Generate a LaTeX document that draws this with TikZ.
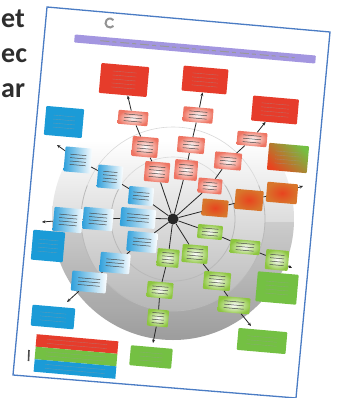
\documentclass[tikz,border=0pt]{standalone}
\usepackage{fontspec}
\newfontfamily\calfont{Carlito}
\usetikzlibrary{arrows.meta}
\definecolor{sRed}{HTML}{E63C2B}
\definecolor{sBlue}{HTML}{1B9BD7}
\definecolor{sGreen}{HTML}{74C043}
\definecolor{gPink}{HTML}{EE7462}
\definecolor{gBlue}{HTML}{2E9FDB}
\definecolor{gGreen}{HTML}{8DC63F}
\definecolor{oRed}{HTML}{E8441F}
\definecolor{oYel}{HTML}{C4B43A}
\definecolor{barPurple}{HTML}{A396E0}
\definecolor{pageBlue}{HTML}{4A7CC4}
\definecolor{inkGray}{HTML}{2E2E2E}
\newcommand\tl[3]{%
  \begin{scope}[shift={(#1.center)},rotate=-5]
    \foreach \k in {1,...,#2}{\draw[txt] ({-#3},{(\k-(#2+1)/2)*3.4}) -- ({#3},{(\k-(#2+1)/2)*3.4});}
  \end{scope}}
\newcommand\tls[3]{%
  \begin{scope}[shift={(#1.center)},rotate=-5]
    \foreach \k in {1,...,#2}{\draw[stxt] ({-#3},{(\k-(#2+1)/2)*4}) -- ({#3},{(\k-(#2+1)/2)*4});}
  \end{scope}}
\begin{document}
\begin{tikzpicture}[x=1pt,y=-1pt,
  box/.style={rotate=-5, inner sep=0pt, rounded corners=1pt},
  wh/.style 2 args={minimum width=#1, minimum height=#2},
  sR/.style={box, fill=sRed},
  sB/.style={box, fill=sBlue},
  sG/.style={box, fill=sGreen},
  gR/.style={box, inner color=white, outer color=gPink},
  gB/.style={box, left color=gBlue, right color=white},
  gG/.style={box, inner color=white, outer color=gGreen},
  gO/.style={box, inner color=oRed, outer color=oRed!55!oYel},
  conn/.style={draw=black!85, line width=0.8pt},
  arr/.style={conn, -{Stealth[length=3.5pt,width=3pt]}},
  txt/.style={black!70, line width=0.5pt},
  stxt/.style={black!40, line width=0.4pt, opacity=0.5},
  big/.style={anchor=base west, inner sep=0pt, text=inkGray,
    font=\calfont\bfseries\fontsize{28}{30}\selectfont},
]
\useasboundingbox (0,0) rectangle (338,398);
\fill[white] (0,0) rectangle (338,398);

% cut-off words at the left
\node[big] (w1) at (1,28) {et};
\node[big] (w2) at (1,63) {ec};
\node[big] (w3) at (1,98) {ar};

% page
\draw[pageBlue, line width=1.3pt] (47,7) -- (330,32) -- (296,398) -- (13,375) -- cycle;

% logo
\draw[gray!85, line width=2pt] (113.45,25.9) arc[start angle=40, end angle=320, radius=4.5];

% title bar
\node[box, fill=barPurple, wh={242}{8}] (bar) at (195,49) {};
\begin{scope}[shift={(bar.center)}, rotate=-5]
  \draw[black!40, line width=1pt, dash pattern=on 9pt off 3pt on 4pt off 4pt] (-95,0) -- (100,0);
\end{scope}

% grey disk
\begin{scope}
  \clip (173,219) circle[radius=121];
  \shade[top color=white, middle color=gray!28, bottom color=gray!68] (50,140) rectangle (296,342);
\end{scope}
\begin{scope}
  \clip (50,222) rectangle (296,345);
  \fill[black, opacity=0.07, even odd rule] (173,219) circle[radius=121] (173,219) circle[radius=92];
\end{scope}
\begin{scope}
  \clip (40,185) rectangle (300,345);
  \draw[gray!55, line width=0.8pt] (173,219) circle[radius=62];
  \draw[gray!55, line width=0.8pt] (173,219) circle[radius=92];
\end{scope}
\begin{scope}
  \clip (40,90) rectangle (300,185);
  \draw[gray!30, line width=0.6pt] (173,219) circle[radius=62];
  \draw[gray!30, line width=0.6pt] (173,219) circle[radius=92];
\end{scope}

% hub
\node[circle, fill=black!85, minimum size=11pt, inner sep=0pt] (hub) at (173,219) {};

% solid boxes
\node[sR, wh={48}{30}] (R1) at (124,80) {};
\node[sR, wh={45}{25}] (R2) at (205,80) {};
\node[sR, wh={46}{25}] (R3) at (275,110) {};
\node[sB, wh={38}{29}] (B1) at (64,122) {};
\node[sB, wh={32}{30}] (B2) at (48,246) {};
\node[sB, wh={43}{21}] (B3) at (53,317) {};
\node[sG, wh={49}{22}] (G1) at (262,341) {};
\node[sG, wh={42}{20}] (G2) at (151,357) {};
\node[sG, wh={41}{30}] (G3) at (277,288) {};
\node[box, wh={40}{27}, top color=sGreen, bottom color=oRed, shading angle=-45] (G4) at (288,158) {};

% glow boxes
\node[gR, wh={30}{14}] (r1) at (133,118) {};
\node[gR, wh={26}{20}] (r2) at (145,147) {};
\node[gR, wh={25}{20}] (r3) at (157,172) {};
\node[gR, wh={30}{15}] (r4) at (198,115) {};
\node[gR, wh={27}{16}] (r5) at (191,145) {};
\node[gR, wh={23}{20}] (r6) at (186,170) {};
\node[gR, wh={30}{14}] (r7) at (252,139) {};
\node[gR, wh={27}{17}] (r8) at (228,161) {};
\node[gR, wh={24}{15}] (r9) at (210,186) {};
\node[gO, wh={26}{17}] (o1) at (215,208) {};
\node[gO, wh={28}{20}] (o2) at (249,200) {};
\node[gO, wh={31}{20}] (o3) at (282,193) {};
\node[gB, wh={27}{25}] (b1) at (78,160) {};
\node[gB, wh={25}{23}] (b2) at (110,177) {};
\node[gB, wh={25}{18}] (b3) at (141,196) {};
\node[gB, wh={29}{24}] (b4) at (68,220) {};
\node[gB, wh={30}{22}] (b5) at (98,219) {};
\node[gB, wh={35}{19}] (b6) at (138,218) {};
\node[gB, wh={30}{20}] (b7) at (142,242) {};
\node[gB, wh={30}{20}] (b8) at (115,263) {};
\node[gB, wh={35}{20}] (b9) at (89,282) {};
\node[gG, wh={25}{14}] (g1) at (210,232) {};
\node[gG, wh={26}{18}] (g2) at (195,254) {};
\node[gG, wh={22}{18}] (g3) at (168,258) {};
\node[gG, wh={30}{14}] (g4) at (245,247) {};
\node[gG, wh={23}{20}] (g5) at (277,260) {};
\node[gG, wh={27}{18}] (g6) at (217,281) {};
\node[gG, wh={26}{16}] (g7) at (160,290) {};
\node[gG, wh={32}{16}] (g8) at (234,305) {};
\node[gG, wh={21}{17}] (g9) at (158,318) {};

% free arrow ends
\coordinate (eb1) at (57,145);
\coordinate (eb4) at (42,222);
\coordinate (eb9) at (67,302);
\coordinate (eg9) at (153,343);
\coordinate (eg8) at (251,326);
\coordinate (eg5) at (292,268);
\coordinate (eo3) at (303,186);

% connectors
\foreach \a in {r3,r6,r9,o1,g1,g2,g3,b7,b6,b3}{\draw[conn] (hub) -- (\a);}
\draw[conn] (r3) -- (r2); \draw[conn] (r2) -- (r1); \draw[arr] (r1) -- (R1);
\draw[conn] (r6) -- (r5); \draw[conn] (r5) -- (r4); \draw[arr] (r4) -- (R2);
\draw[conn] (r9) -- (r8); \draw[conn] (r8) -- (r7); \draw[arr] (r7) -- (R3);
\draw[conn] (o1) -- (o2); \draw[conn] (o2) -- (o3); \draw[arr] (o3) -- (eo3);
\draw[conn] (b3) -- (b2); \draw[conn] (b2) -- (b1); \draw[arr] (b1) -- (eb1);
\draw[conn] (b6) -- (b5); \draw[conn] (b5) -- (b4); \draw[arr] (b4) -- (eb4);
\draw[conn] (b7) -- (b8); \draw[conn] (b8) -- (b9); \draw[arr] (b9) -- (eb9);
\draw[conn] (g3) -- (g7); \draw[conn] (g7) -- (g9); \draw[arr] (g9) -- (eg9);
\draw[conn] (g1) -- (g4); \draw[conn] (g4) -- (g5); \draw[arr] (g5) -- (eg5);
\draw[conn] (g2) -- (g6); \draw[conn] (g6) -- (g8); \draw[arr] (g8) -- (eg8);

% illegible text lines
\foreach \n/\c/\w in {r1/3/9,r2/4/8,r3/4/8,r4/3/9,r5/3/8,r6/4/7,r7/3/9,r8/3/8,r9/3/7,
  b1/4/8,b2/4/7,b3/3/8,b4/4/9,b5/4/9,b6/3/11,b7/3/9,b8/3/9,b9/3/11,
  g1/3/8,g2/4/8,g3/4/6,g4/3/9,g5/4/7,g6/4/8,g7/3/8,g8/3/10,g9/4/6}{\tl{\n}{\c}{\w}}
\foreach \n/\c/\w in {R1/5/12,R2/4/13,R3/4/14,B1/4/11,B2/4/10,B3/3/13,G1/3/15,G2/3/12,G3/4/12,G4/4/13}{\tls{\n}{\c}{\w}}

% legend
\node[box, fill=sRed, wh={82}{12.5}, rounded corners=0pt] (L1) at (77,344) {};
\node[box, fill=sGreen, wh={82}{12.5}, rounded corners=0pt] (L2) at (76,356.5) {};
\node[box, fill=sBlue, wh={82}{12.5}, rounded corners=0pt] (L3) at (75,369) {};
\foreach \n in {L1,L2,L3}{\tls{\n}{2}{30}}
\draw[black!70, line width=1.6pt] (29,350) -- (28.5,361);
\end{tikzpicture}
\end{document}
